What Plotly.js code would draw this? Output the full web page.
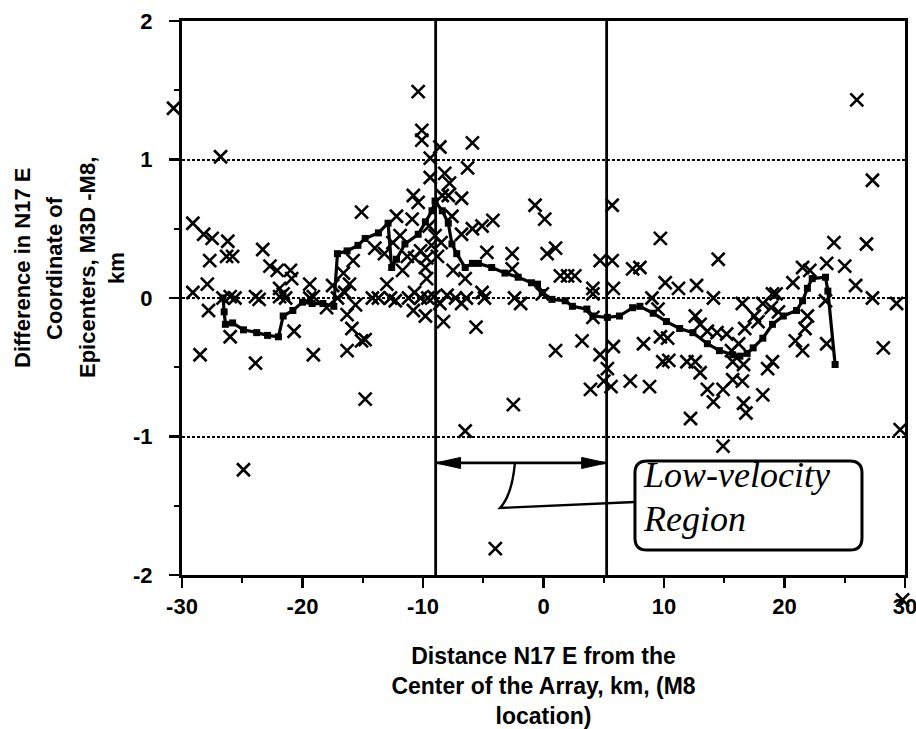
<!DOCTYPE html>
<html>
<head>
<meta charset="utf-8">
<script src="https://cdn.plot.ly/plotly-3.0.1.min.js"></script>
<style>html,body{margin:0;padding:0;background:#fff;}#chart{width:916px;height:729px;}</style>
</head>
<body>
<div id="chart"></div>
<script>
// Scattered epicenter differences (x marks)
const ptsX = [-30.7,-26.8,-29.1,-28.2,-27.5,-26.2,-27.7,-26.3,-25.8,-29.1,-27.9,-27.8,-26.0,-28.5,-23.9,-24.9,-26.6,-26.0,-25.6,-23.3,
  -22.7,-22.1,-21.0,-20.9,-21.9,-21.6,-23.9,-23.6,-21.9,-21.4,-20.7,-19.4,-19.4,-19.1,-19.1,-18.0,-17.5,-17.1,-16.3,-15.1,
  -15.9,-14.8,-15.1,-16.6,-16.1,-16.5,-15.8,-15.6,-16.3,-14.2,-13.7,-14.8,-14.0,-13.2,-13.0,-12.7,-12.3,-12.2,-11.7,-10.8,
  -10.9,-10.8,-10.4,-10.4,-10.1,-10.1,-10.7,-10.2,-9.7,-9.8,-9.7,-10.7,-9.8,-9.4,-9.4,-9.6,-9.1,-8.6,-8.2,-7.8,
  -7.9,-6.8,-7.6,-8.3,-8.6,-6.8,-7.5,-6.5,-5.9,-6.3,-5.9,-5.1,-6.8,-4.2,-4.7,-5.1,-5.6,-6.5,-7.3,-6.4,
  -4.9,-4.0,-2.6,-2.6,-2.4,-1.9,-2.5,-0.7,0.1,1.0,0.3,1.4,-0.1,1.0,2.0,2.6,3.2,4.1,4.1,4.7,
  5.7,5.7,4.7,5.8,5.3,3.9,5.0,5.6,5.8,4.1,7.2,7.4,8.0,8.3,8.8,9.5,9.0,9.7,9.7,10.3,
  9.9,10.4,10.1,11.2,12.7,11.9,12.6,13.0,12.6,13.0,12.2,13.6,14.1,14.9,15.7,16.5,16.6,16.8,14.9,14.1,
  14.5,13.6,14.4,15.2,15.6,16.2,15.7,16.6,16.5,16.7,17.5,17.8,18.2,18.2,18.6,19.0,19.0,19.3,18.9,19.5,
  20.7,21.5,22.1,21.9,21.7,20.9,21.5,23.5,23.4,23.5,24.1,25.0,25.9,26.8,27.3,28.2,29.3,29.6,26.0,27.3,
  29.8,-9.0,-9.3,-8.8,-9.5,-8.5,-12.5,-11.9,-11.3,-8.4,-11.2,-10.2,-8.0];
const ptsY = [1.37,1.02,0.54,0.46,0.43,0.41,0.27,0.30,0.30,0.04,0.10,-0.09,-0.28,-0.41,-0.47,-1.24,0.00,0.01,0.00,0.35,
  0.23,0.20,0.20,0.14,0.07,0.03,0.01,-0.01,0.01,0.00,-0.24,0.10,0.00,0.01,-0.41,-0.07,0.09,0.00,-0.38,-0.31,
  -0.22,-0.73,0.62,0.18,0.10,0.04,0.27,-0.05,-0.12,0.00,0.00,-0.30,0.36,0.32,0.10,0.00,-0.02,0.59,0.20,-0.09,
  0.57,0.74,0.69,1.49,1.21,1.14,0.29,0.34,0.29,0.22,0.14,0.04,-0.13,1.01,0.87,0.00,0.01,1.09,0.90,0.83,
  0.74,0.72,0.59,-0.17,-0.04,-0.04,0.20,0.14,1.12,0.94,0.50,0.52,0.46,0.56,0.33,0.04,-0.21,-0.96,0.00,0.00,
  0.00,-1.81,0.32,0.21,0.00,-0.04,-0.77,0.67,0.57,0.36,0.32,0.16,0.03,-0.38,0.16,0.16,-0.31,0.07,-0.14,0.27,
  0.27,0.67,-0.41,-0.35,-0.51,-0.66,-0.60,-0.64,0.07,0.03,-0.60,0.21,0.22,-0.33,-0.64,-0.08,0.00,0.43,-0.28,-0.29,
  -0.46,-0.45,0.11,0.07,0.09,-0.46,-0.46,-0.54,-0.13,-0.19,-0.87,-0.66,-0.75,-0.66,-0.59,-0.60,-0.76,-0.83,-1.07,0.00,
  0.28,-0.24,-0.25,-0.26,-0.38,-0.33,-0.46,-0.48,-0.04,-0.22,-0.13,-0.17,-0.04,-0.70,-0.51,-0.46,0.03,0.03,-0.07,-0.10,
  0.11,0.22,0.20,-0.13,-0.22,-0.31,-0.38,0.25,-0.02,-0.33,0.40,0.23,0.09,0.39,0.00,-0.36,-0.04,-0.95,1.43,0.85,
  -2.18,0.45,0.38,0.30,0.52,0.40,0.40,0.45,0.30,0.74,0.00,0.00,0.02];

// Running-average curve (squares joined by a line)
const lineX = [-26.6,-26.5,-26.4,-25.8,-24.9,-23.8,-22.9,-22.0,-21.6,-20.8,-20.0,-19.2,-18.3,-17.4,-17.1,-16.3,-15.4,-14.8,-13.7,-12.9,
  -12.6,-12.2,-11.5,-10.4,-9.8,-9.25,-9.0,-8.4,-7.9,-7.6,-7.2,-6.5,-5.9,-5.4,-4.3,-3.2,-2.1,-1.0,-0.5,-0.1,
  0.7,1.8,2.4,3.6,4.1,5.3,6.3,7.4,8.0,9.1,10.2,11.3,12.4,13.6,14.6,15.7,16.3,16.9,17.4,18.2,
  19.0,19.9,21.0,21.5,21.9,22.3,23.4,23.6,24.2];
const lineY = [0,-0.1,-0.19,-0.18,-0.23,-0.25,-0.27,-0.28,-0.13,-0.09,-0.03,-0.04,-0.04,-0.06,0.32,0.34,0.38,0.43,0.47,0.54,
  0.22,0.28,0.39,0.46,0.55,0.63,0.70,0.63,0.54,0.39,0.32,0.22,0.25,0.25,0.22,0.18,0.15,0.11,0.10,0.04,
  -0.01,-0.02,-0.06,-0.08,-0.13,-0.14,-0.13,-0.07,-0.06,-0.11,-0.17,-0.22,-0.25,-0.33,-0.38,-0.41,-0.42,-0.40,-0.36,-0.29,
  -0.19,-0.13,-0.09,-0.02,0.07,0.14,0.15,0.05,-0.48];

// Tick labels (hyphen minus as in the original)
const xTickVals = [-30, -20, -10, 0, 10, 20, 30];
const xTickText = ["-30", "-20", "-10", "0", "10", "20", "30"];
const yTickVals = [-2, -1, 0, 1, 2];
const yTickText = ["-2", "-1", "0", "1", "2"];

// Low-velocity region bounds (km)
const regionBounds = [-8.95, 5.24];
const xTitle = "Distance N17 E from the<br>Center of the Array, km, (M8<br>location)";
const yTitleLines = ["Difference in N17 E", "Coordinate of", "Epicenters, M3D -M8,", "km"];
const regionLabel = ["Low-velocity", "Region"];

const sansBold = {family: "Liberation Sans, Arial, sans-serif", size: 22, color: "#000", weight: "bold"};
const serifIt = {family: "Liberation Serif, Times New Roman, serif", size: 36, color: "#000", style: "italic"};

// ---- geometry: main frame in pixels, outer (free) area slightly larger so
// marks just outside the frame can still be shown on the same scale
const W = 916, H = 729;
const frame = {left: 182, right: 905, top: 21, bottom: 575};
const mrg = {l: 160, r: 4, t: 14, b: 120};
const areaW = W - mrg.l - mrg.r, areaH = H - mrg.t - mrg.b;
const xRange = [-30, 30], yRange = [-2, 2];
const pxPerX = (frame.right - frame.left) / (xRange[1] - xRange[0]);
const pxPerY = (frame.bottom - frame.top) / (yRange[1] - yRange[0]);
const xDom = [(frame.left - mrg.l) / areaW, (frame.right - mrg.l) / areaW];
const yDom = [(H - mrg.b - frame.bottom) / areaH, (H - mrg.b - frame.top) / areaH];
const x2Range = [xRange[0] - (frame.left - mrg.l) / pxPerX, xRange[1] + (W - mrg.r - frame.right) / pxPerX];
const y2Range = [yRange[0] - (H - mrg.b - frame.bottom) / pxPerY, yRange[1] + (frame.top - mrg.t) / pxPerY];
const paperX = px => (px - mrg.l) / areaW;
const paperY = py => (H - mrg.b - py) / areaH;

// decoration geometry (data units)
const arrowY = -1.191, headLen = 2.07, headHalf = 0.04;
const box = {x0: 7.59, x1: 26.43, y0: -1.819, y1: -1.177, rx: 1.0, ry: 0.087};
function roundedRect(b) {
  return `M${b.x0+b.rx},${b.y1} L${b.x1-b.rx},${b.y1} Q${b.x1},${b.y1} ${b.x1},${b.y1-b.ry} ` +
         `L${b.x1},${b.y0+b.ry} Q${b.x1},${b.y0} ${b.x1-b.rx},${b.y0} L${b.x0+b.rx},${b.y0} ` +
         `Q${b.x0},${b.y0} ${b.x0},${b.y0+b.ry} L${b.x0},${b.y1-b.ry} Q${b.x0},${b.y1} ${b.x0+b.rx},${b.y1} Z`;
}
const L = regionBounds[0], R = regionBounds[1];

const traces = [
  {x: lineX, y: lineY, type: "scatter", mode: "lines+markers", xaxis: "x", yaxis: "y",
   line: {color: "#000", width: 3.2}, marker: {symbol: "square", size: 7, color: "#000"},
   hoverinfo: "x+y", showlegend: false},
  {x: ptsX, y: ptsY, type: "scatter", mode: "markers", xaxis: "x2", yaxis: "y2", cliponaxis: false,
   marker: {symbol: "x-thin-open", size: 13, color: "#000", line: {color: "#000", width: 2.6}},
   hoverinfo: "x+y", showlegend: false}
];

// y-axis title lines placed as rotated text to the left of the axis
const yTitlePx = [22, 54, 87, 116];
const yTitleAnn = yTitleLines.map((t, i) => ({
  xref: "paper", yref: "paper", x: paperX(yTitlePx[i]), y: paperY(268), xanchor: "center", yanchor: "middle",
  textangle: -90, showarrow: false, text: t, font: Object.assign({}, sansBold, {size: 22})
}));

const layout = {
  width: W, height: H,
  margin: mrg,
  paper_bgcolor: "#fff", plot_bgcolor: "rgba(0,0,0,0)",
  showlegend: false,
  xaxis: {
    domain: xDom, anchor: "y",
    range: xRange, tickmode: "array", tickvals: xTickVals, ticktext: xTickText,
    showgrid: false, zeroline: false, ticklabeloverflow: "allow",
    showline: true, mirror: true, linecolor: "#000", linewidth: 3,
    ticks: "outside", ticklen: 10, tickwidth: 2.5, tickcolor: "#000",
    minor: {dtick: 5, tick0: 0, ticks: "outside", ticklen: 5, tickwidth: 2, tickcolor: "#000", showgrid: false},
    tickfont: sansBold,
    title: {text: xTitle, font: Object.assign({}, sansBold, {size: 23}), standoff: 30}
  },
  yaxis: {
    domain: yDom, anchor: "x",
    range: yRange, tickmode: "array", tickvals: yTickVals, ticktext: yTickText,
    showgrid: true, gridcolor: "#000", griddash: "3px,2px", gridwidth: 2,
    zeroline: false, showline: true, mirror: true, linecolor: "#000", linewidth: 3,
    ticks: "outside", ticklen: 10, tickwidth: 2.5, tickcolor: "#000",
    minor: {dtick: 0.5, tick0: 0, ticks: "outside", ticklen: 5, tickwidth: 2, tickcolor: "#000", showgrid: false},
    tickfont: sansBold, ticklabelstandoff: 12
  },
  xaxis2: {domain: [0, 1], anchor: "y2", range: x2Range, visible: false, fixedrange: true},
  yaxis2: {domain: [0, 1], anchor: "x2", range: y2Range, visible: false, fixedrange: true},
  shapes: [
    {type: "line", xref: "x", yref: "y", x0: L, x1: L, y0: -2, y1: 2, line: {color: "#000", width: 2.8}, layer: "below"},
    {type: "line", xref: "x", yref: "y", x0: R, x1: R, y0: -2, y1: 2, line: {color: "#000", width: 2.8}, layer: "below"},
    {type: "line", xref: "x", yref: "y", x0: L, x1: R, y0: arrowY, y1: arrowY, line: {color: "#000", width: 2.8}},
    {type: "path", xref: "x", yref: "y", path: `M${L},${arrowY} L${L+headLen},${arrowY+headHalf} L${L+headLen},${arrowY-headHalf} Z`,
     fillcolor: "#000", line: {color: "#000", width: 1}},
    {type: "path", xref: "x", yref: "y", path: `M${R},${arrowY} L${R-headLen},${arrowY+headHalf} L${R-headLen},${arrowY-headHalf} Z`,
     fillcolor: "#000", line: {color: "#000", width: 1}},
    {type: "path", xref: "x", yref: "y", path: `M-2.37,${arrowY} Q-2.61,-1.422 -3.61,-1.516 L${box.x0},-1.473`,
     line: {color: "#000", width: 2.4}},
    {type: "path", xref: "x", yref: "y", path: roundedRect(box), fillcolor: "rgba(255,255,255,0)", line: {color: "#000", width: 3}}
  ],
  annotations: [
    {xref: "x", yref: "y", x: 8.09, y: -1.281, xanchor: "left", yanchor: "middle", showarrow: false, text: regionLabel[0], font: serifIt},
    {xref: "x", yref: "y", x: 8.09, y: -1.598, xanchor: "left", yanchor: "middle", showarrow: false, text: regionLabel[1], font: serifIt}
  ].concat(yTitleAnn)
};

Plotly.newPlot("chart", traces, layout, {displayModeBar: false, staticPlot: true});
</script>
</body>
</html>
